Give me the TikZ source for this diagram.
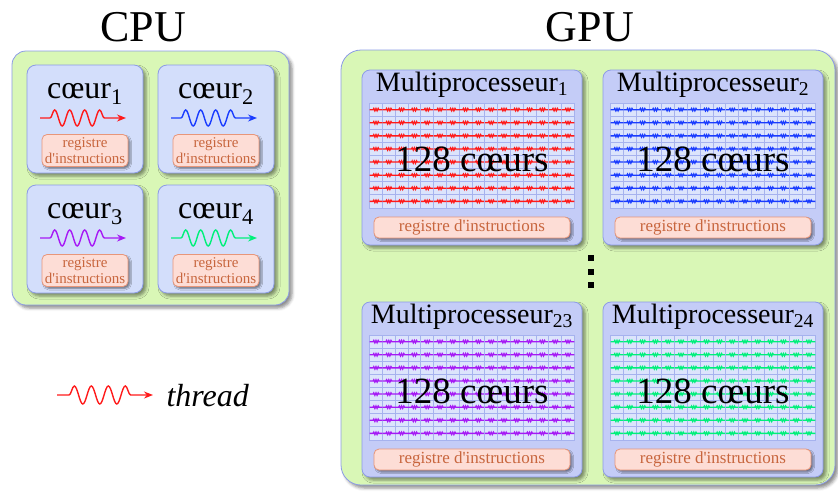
\documentclass[tikz,border=0pt]{standalone}
\usepackage{fontspec}
\setmainfont{Liberation Serif}
\usepackage{xcolor}
\usetikzlibrary{arrows.meta,decorations.pathmorphing,shadows.blur}

\definecolor{vertpuce}{HTML}{D9F7B6}
\definecolor{bordbleu}{HTML}{8C9BE6}
\definecolor{fondcoeur}{HTML}{D3DEFB}
\definecolor{fondmulti}{HTML}{C4CCF7}
\definecolor{fondcell}{HTML}{DCE4FC}
\definecolor{bordcell}{HTML}{A6B2EE}
\definecolor{fondreg}{HTML}{FDDDD6}
\definecolor{bordreg}{HTML}{E8967A}
\definecolor{texreg}{HTML}{C8663E}
\definecolor{rouge}{HTML}{FF1A1A}
\definecolor{bleu}{HTML}{1A3CFF}
\definecolor{violet}{HTML}{A61AF5}
\definecolor{vertfil}{HTML}{00F07A}

\newcommand{\fsz}[1]{\fontsize{#1}{#1}\selectfont}

\tikzset{
  boite/.style={draw=bordbleu, line width=0.8pt,
    blur shadow={shadow xshift=3pt, shadow yshift=-3pt, shadow blur radius=3pt, shadow opacity=45}},
  puce/.style={boite, fill=vertpuce, rounded corners=14pt},
  coeur/.style={boite, fill=fondcoeur, rounded corners=9pt, minimum width=116pt, minimum height=108pt},
  multi/.style={boite, fill=fondmulti, rounded corners=8pt, minimum width=220pt, minimum height=175pt},
  registre/.style={draw=bordreg, fill=fondreg, text=texreg, rounded corners=5pt, line width=0.8pt,
    blur shadow={shadow xshift=2pt, shadow yshift=-2pt, shadow blur radius=1.5pt, shadow opacity=45},
    align=center, inner sep=0pt},
  fil/.style={draw=#1, line width=1.4pt, decorate,
    decoration={snake, amplitude=8pt, segment length=15pt, pre length=10pt, post length=16pt},
    -{Stealth[length=9pt, width=7pt]}},
  minifil/.style={draw=#1, line width=1.3pt, decorate,
    decoration={snake, amplitude=1.2pt, segment length=2.2pt, pre length=3.5pt, post length=3.5pt}},
  cellule/.style={draw=bordcell, fill=fondcell, line width=0.7pt},
}

\newcommand{\grille}[2]{%
  \begin{scope}[shift={(#1.center)}]
    \foreach \i in {0,...,15}
      \foreach \j in {0,...,7}{
        \draw[cellule] (-102.4+12.8*\i, -54.4+13.1*\j) rectangle ++(12.8,13.1);
        \draw[minifil=#2] (-102.4+12.8*\i, -54.4+13.1*\j+6.55) -- ++(12.8,0);
      }
  \end{scope}}

\begin{document}
\begin{tikzpicture}[x=1pt, y=-1pt]
\useasboundingbox (0,0) rectangle (838,496);

% titres
\node (tcpu) at (143,27) {\fsz{44}CPU};
\node (tgpu) at (590,27) {\fsz{44}GPU};

% CPU
\node[puce, minimum width=277pt, minimum height=254pt] (cpu) at (150.5,178) {};
\node[coeur] (c1) at (85,119) {};
\node[coeur] (c2) at (216,119) {};
\node[coeur] (c3) at (85,239) {};
\node[coeur] (c4) at (216,239) {};

\foreach \c/\n/\col in {c1/1/rouge, c2/2/bleu, c3/3/violet, c4/4/vertfil}{
  \node (l\c) at ([yshift=25pt]\c.center) {\fsz{32}cœur\textsubscript{\n}};
  \draw[fil=\col] ([xshift=-45pt, yshift=1pt]\c.center) -- ([xshift=41pt, yshift=1pt]\c.center);
  \node[registre, minimum width=86pt, minimum height=32pt, font=\fontsize{15}{16}\selectfont]
    (r\c) at ([yshift=-31.5pt]\c.center) {registre\\d\textquotesingle instructions};
}

% legende
\node[anchor=west] (leg) at (163,396) {\fsz{32}\itshape thread};
\coordinate (legdeb) at (57,395);
\draw[fil=rouge, decoration={amplitude=9pt, segment length=17pt, pre length=12pt, post length=18pt}]
  (legdeb) -- ++(96,0);

% GPU
\node[puce, rounded corners=20pt, minimum width=494pt, minimum height=435pt] (gpu) at (588,267.5) {};
\node[multi] (mp1) at (472,157.5) {};
\node[multi] (mp2) at (713,157.5) {};
\node[multi] (mp23) at (472,389.5) {};
\node[multi] (mp24) at (713,389.5) {};

\foreach \m/\n/\col in {mp1/1/rouge, mp2/2/bleu, mp23/23/violet, mp24/24/vertfil}{
  \node (t\m) at ([yshift=-15pt]\m.north) {\fsz{28}Multiprocesseur\textsubscript{\n}};
  \grille{\m}{\col}
  \node (n\m) at ([yshift=-2pt]\m.center) {\fsz{37}128 cœurs};
  \node[registre, minimum width=196pt, minimum height=21pt, font=\fsz{17}]
    (r\m) at ([yshift=-70pt]\m.center) {registre d\textquotesingle instructions};
}

% points
\foreach \y in {261,275,288}
  \fill (588,\y) rectangle ++(6,-6);
\end{tikzpicture}
\end{document}
